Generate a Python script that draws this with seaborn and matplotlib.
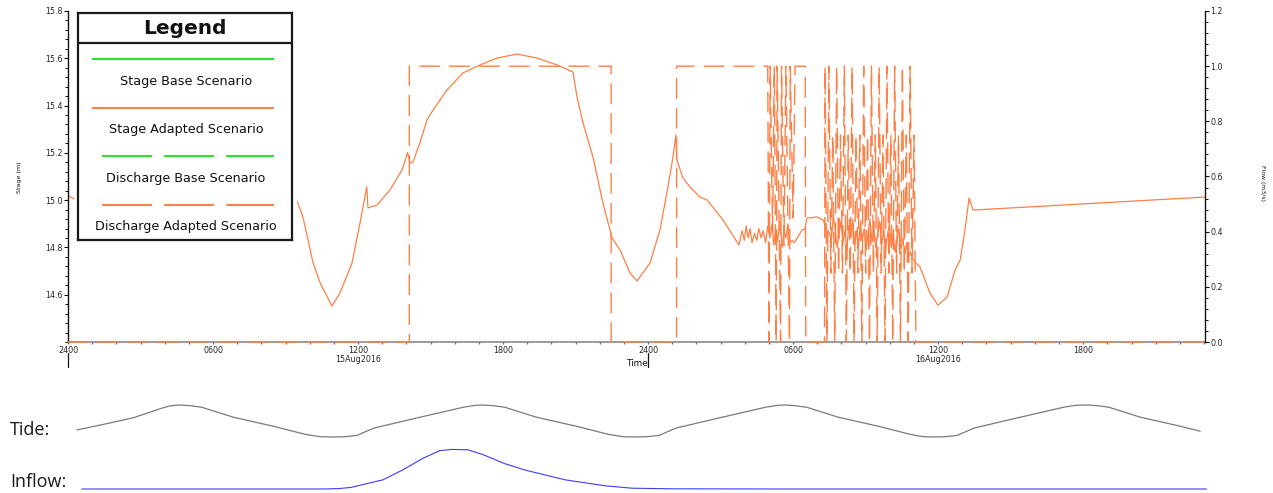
import numpy as np
import pandas as pd
import matplotlib
matplotlib.use("Agg")
import matplotlib.pyplot as plt
import matplotlib.transforms as mtransforms
from matplotlib.ticker import FixedLocator, MultipleLocator, FormatStrFormatter
import seaborn as sns

# ---------------- data (hours from 2400 14Aug2016) ----------------
stage_early_time = [0.0, 0.25]
stage_early = [15.02, 15.005]

stage_time = [
    9.49, 9.72, 10.14, 10.43, 10.92, 11.25, 11.75, 12.08, 12.36, 12.41, 12.78,
    13.32, 13.82, 14.05, 14.15, 14.27, 14.56, 14.85, 15.10, 15.68, 16.34, 17.05,
    17.75, 18.58, 19.40, 20.23, 20.89, 21.06, 21.31, 21.72, 22.13, 22.51, 22.84,
    23.25, 23.54, 24.08, 24.49, 24.82, 25.03, 25.15, 25.19, 25.44, 25.73, 26.15,
    26.44, 27.10, 27.76,
    27.89, 27.98, 28.06, 28.14, 28.22, 28.30, 28.40, 28.50, 28.58, 28.68, 28.76,
    28.86, 28.95, 29.04, 29.12, 29.20, 29.28, 29.36, 29.45, 29.54, 29.62, 29.70,
    29.78, 29.86, 29.95, 30.05, 30.37, 30.49, 30.57, 30.99, 31.24, 31.40,
    31.50, 31.58, 31.66, 31.74, 31.82, 31.90, 31.98, 32.06, 32.14, 32.22, 32.30,
    32.38, 32.46, 32.54, 32.62, 32.70, 32.78, 32.86, 32.94, 33.02, 33.10, 33.18,
    33.26, 33.34, 33.42, 33.50, 33.58, 33.66, 33.74, 33.82, 33.90, 33.98, 34.06,
    34.14, 34.22, 34.30, 34.38, 34.46, 34.54, 34.62, 34.70, 34.78, 34.86, 34.96,
    35.25, 35.66, 35.99, 36.37, 36.70, 36.91, 37.11, 37.28, 37.44, 47.04,
]
stage_adapted = [
    14.993, 14.929, 14.734, 14.650, 14.552, 14.607, 14.734, 14.903, 15.056, 14.967, 14.979,
    15.043, 15.128, 15.201, 15.157, 15.161, 15.242, 15.339, 15.381, 15.466, 15.538, 15.572,
    15.601, 15.618, 15.601, 15.572, 15.542, 15.436, 15.326, 15.182, 14.988, 14.840, 14.789,
    14.692, 14.658, 14.734, 14.874, 15.056, 15.182, 15.276, 15.170, 15.094, 15.056, 15.013,
    15.001, 14.916, 14.810,
    14.87, 14.83, 14.89, 14.84, 14.88, 14.82, 14.86, 14.83, 14.88, 14.84, 14.87,
    14.82, 14.89, 14.84, 14.90, 14.81, 14.88, 14.83, 14.91, 14.80, 14.87, 14.84,
    14.90, 14.82, 14.83, 14.82, 14.874, 14.878, 14.924, 14.929, 14.916, 14.874,
    14.86, 14.83, 14.93, 14.88, 14.80, 14.86, 14.91, 14.82, 14.87, 14.79, 14.89,
    14.84, 14.92, 14.81, 14.87, 14.80, 14.90, 14.83, 14.88, 14.79, 14.86, 14.92,
    14.82, 14.88, 14.80, 14.86, 14.91, 14.81, 14.87, 14.79, 14.85, 14.90, 14.80,
    14.86, 14.78, 14.84, 14.88, 14.79, 14.84, 14.77, 14.82, 14.76, 14.78, 14.747,
    14.717, 14.607, 14.556, 14.590, 14.704, 14.746, 14.874, 15.009, 14.958, 15.013,
]

flow_time = [
    0.0, 14.12, 14.12, 22.47, 22.47, 25.18, 25.18,
    28.95, 29.00, 29.05, 29.15, 29.22, 29.30, 29.34, 29.48, 29.52, 29.62, 29.70,
    29.85, 29.88, 30.00, 30.08, 30.50, 30.52, 31.30, 31.32,
    31.40, 31.48, 31.56, 31.64, 31.72, 31.80, 31.88, 31.96, 32.04, 32.12, 32.20,
    32.28, 32.36, 32.44, 32.52, 32.60, 32.68, 32.76, 32.84, 32.92, 33.00, 33.08,
    33.16, 33.24, 33.32, 33.40, 33.48, 33.56, 33.64, 33.72, 33.80, 33.88, 33.96,
    34.04, 34.12, 34.20, 34.28, 34.36, 34.44, 34.52, 34.60, 34.68, 34.76, 34.84,
    34.92, 35.00, 35.08, 47.04,
]
flow_adapted = [
    0.0, 0.0, 1.0, 1.0, 0.0, 0.0, 1.0,
    1.0, 0.0, 1.0, 0.40, 1.0, 0.0, 1.0, 0.0, 1.0, 0.35, 1.0,
    0.0, 1.0, 0.45, 1.0, 1.0, 0.0, 0.0, 1.0,
    0.0, 1.0, 0.25, 0.75, 0.0, 1.0, 0.25, 0.75, 0.25, 1.0, 0.0,
    0.75, 0.25, 1.0, 0.0, 0.75, 0.25, 0.75, 0.0, 1.0, 0.25, 0.75,
    0.0, 1.0, 0.25, 0.75, 0.0, 1.0, 0.25, 0.75, 0.0, 1.0, 0.25,
    0.75, 0.0, 1.0, 0.25, 0.75, 0.0, 1.0, 0.25, 0.75, 0.0, 1.0,
    0.25, 0.75, 0.0, 0.0,
]

tide_time = [
    0.37, 1.5, 2.7, 3.8, 4.2, 4.63,
    5.03, 5.53, 6.83, 8.53, 9.83, 10.43, 10.96,
    11.46, 11.96, 12.26, 12.66, 14.46, 16.36, 16.86, 17.17,
    17.57, 18.07, 19.37, 21.07, 22.37, 22.97, 23.46,
    23.96, 24.46, 24.76, 25.16, 26.96, 28.86, 29.36, 29.66,
    30.06, 30.56, 31.86, 33.56, 34.86, 35.36, 35.79,
    36.29, 36.79, 37.09, 37.49, 39.29, 41.19, 41.69, 42.16,
    42.56, 43.06, 44.36, 46.06, 46.84,
]
tide_level = [
    0.22, 0.40, 0.60, 0.88, 0.97, 1.00,
    0.98, 0.93, 0.62, 0.33, 0.08, 0.01, 0.00,
    0.01, 0.05, 0.15, 0.28, 0.60, 0.93, 0.99, 1.00,
    0.98, 0.93, 0.62, 0.33, 0.08, 0.01, 0.00,
    0.01, 0.05, 0.15, 0.28, 0.60, 0.93, 0.99, 1.00,
    0.98, 0.93, 0.62, 0.33, 0.08, 0.01, 0.00,
    0.01, 0.05, 0.15, 0.28, 0.60, 0.93, 0.99, 1.00,
    0.98, 0.93, 0.62, 0.33, 0.18,
]

inflow_time = [0.57, 6.0, 10.5, 11.2, 11.71, 13.03, 13.86, 14.69, 15.39, 15.89,
               16.55, 17.21, 18.04, 18.87, 20.56, 22.22, 23.33, 25.0, 30.0, 40.0, 47.1]
inflow_level = [0.0, 0.0, 0.0, 0.01, 0.04, 0.23, 0.48, 0.77, 0.96, 0.99,
                0.98, 0.85, 0.64, 0.48, 0.23, 0.08, 0.02, 0.005, 0.0, 0.0, 0.0]

xtick_hours = [0, 6, 12, 18, 24, 30, 36, 42]
xtick_labels = ["2400", "0600", "1200\n15Aug2016", "1800",
                "2400", "0600", "1200\n16Aug2016", "1800"]
day_starts = [0, 24]

legend_labels = ["Stage Base Scenario", "Stage Adapted Scenario",
                 "Discharge Base Scenario", "Discharge Adapted Scenario"]
legend_colors = ["#2ee02e", "#ff7f45", "#2ee02e", "#ff7f45"]
legend_dashed = [False, False, True, True]

# ---------------- styling ----------------
ORANGE = "#ff7f45"
sns.set_theme(style="white")
plt.rcParams["font.family"] = ["DejaVu Sans"]

W, H = 1273, 493
fig = plt.figure(figsize=(W / 100, H / 100), dpi=100)


def px_box(x0, y0, x1, y1):
    return [x0 / W, 1 - y1 / H, (x1 - x0) / W, (y1 - y0) / H]


ax = fig.add_axes(px_box(68, 11, 1205, 342))
ax2 = ax.twinx()
t_end = stage_time[-1]

# stage (solid) with a data gap between the two runs
stage_df = pd.DataFrame({
    "hours": stage_early_time + stage_time,
    "stage": stage_early + stage_adapted,
    "run": [0] * len(stage_early_time) + [1] * len(stage_time),
})
sns.lineplot(data=stage_df, x="hours", y="stage", units="run", estimator=None,
             sort=False, color=ORANGE, lw=0.9, ax=ax, legend=False)

# discharge (dashed) on the right-hand axis
flow_df = pd.DataFrame({"hours": flow_time, "flow": flow_adapted})
sns.lineplot(data=flow_df, x="hours", y="flow", estimator=None, sort=False,
             color=ORANGE, lw=1.0, linestyle=(0, (15, 6.5)), ax=ax2, legend=False)
for ln in ax2.get_lines():
    ln.set_clip_on(False)

ax.set_xlim(0, t_end)
ax.set_ylim(14.4, 15.8)
ax2.set_ylim(0, 1.2)

# spines
for a in (ax, ax2):
    a.spines["top"].set_visible(False)
ax.spines["right"].set_visible(False)
ax2.spines["left"].set_visible(False)
ax2.spines["bottom"].set_visible(False)
ax.spines["left"].set_color("#111111")
ax.spines["left"].set_linewidth(1.0)
ax2.spines["right"].set_color("#111111")
ax2.spines["right"].set_linewidth(1.0)
ax.spines["bottom"].set_color("#808080")
ax.spines["bottom"].set_linewidth(1.1)

# y ticks
ax.yaxis.set_major_locator(FixedLocator([14.6, 14.8, 15.0, 15.2, 15.4, 15.6, 15.8]))
ax.yaxis.set_minor_locator(MultipleLocator(0.04))
ax.yaxis.set_major_formatter(FormatStrFormatter("%.1f"))
ax2.yaxis.set_major_locator(MultipleLocator(0.2))
ax2.yaxis.set_minor_locator(MultipleLocator(0.04))
ax2.yaxis.set_major_formatter(FormatStrFormatter("%.1f"))
ax.tick_params(axis="y", which="major", direction="out", length=3, width=0.8,
               color="#111111", labelsize=5.7, pad=1, left=True)
ax.tick_params(axis="y", which="minor", direction="out", length=2, width=0.7,
               color="#111111", left=True)
ax2.tick_params(axis="y", which="major", direction="out", length=3, width=0.8,
                color="#111111", labelsize=5.7, pad=1, right=True)
ax2.tick_params(axis="y", which="minor", direction="out", length=2, width=0.7,
                color="#111111", right=True)

# x ticks
ax.set_xticks(xtick_hours)
ax.set_xticklabels(xtick_labels)
ax.xaxis.set_minor_locator(MultipleLocator(1))
ax.tick_params(axis="x", which="both", direction="out", length=1.5, width=1.0,
               color="#666666", labelsize=5.8, pad=1.5, bottom=True)
for lbl in ax.get_xticklabels():
    lbl.set_linespacing(1.0)
ax.set_xlabel("")
ax.set_ylabel("")
ax2.set_ylabel("")

# longer day-boundary ticks below the axis
trans = mtransforms.blended_transform_factory(ax.transData, ax.transAxes)
for d in day_starts:
    ax.plot([d, d], [-0.033, -0.075], transform=trans, clip_on=False,
            color="#111111", lw=0.9)
ax.text(0.5, -0.064, "Time", transform=ax.transAxes, ha="center", va="center",
        fontsize=6.4, color="#111111")

fig.text(20 / W, 1 - 177 / H, "Stage (m)", rotation=90, ha="center", va="center",
         fontsize=4.6, color="#111111")
fig.text(1262 / W, 1 - 183 / H, "Flow (m3/s)", rotation=270, ha="center", va="center",
         fontsize=4.4, color="#111111")

# ---------------- legend box ----------------
lg = fig.add_axes(px_box(78, 13, 292, 240))
lg.set_xlim(0, 214)
lg.set_ylim(227, 0)
lg.set_xticks([])
lg.set_yticks([])
lg.patch.set_facecolor("white")
for s in lg.spines.values():
    s.set_visible(True)
    s.set_color("#1a1a1a")
    s.set_linewidth(1.6)
lg.axhline(30, color="#1a1a1a", lw=1.6)
lg.text(107, 15, "Legend", ha="center", va="center", fontsize=14.5,
        fontweight="bold", color="#111111")
for i, (lab, col, dashed) in enumerate(zip(legend_labels, legend_colors, legend_dashed)):
    y_line = 46 + 48.6 * i
    ls = (0, (24, 5.8)) if dashed else "-"
    x0, x1 = (14, 196) if not dashed else (24, 196)
    lg.plot([x0, x1], [y_line, y_line], color=col, lw=1.5, linestyle=ls,
            solid_capstyle="butt", dash_capstyle="butt")
    lg.text(108, y_line + 22, lab, ha="center", va="center", fontsize=9.2,
            color="#111111")

# ---------------- tide and inflow strips ----------------
tax = fig.add_axes(px_box(68, 400, 1205, 442))
sns.lineplot(x=tide_time, y=tide_level, estimator=None, sort=False,
             color="#7a7a7a", lw=0.9, ax=tax, legend=False)
tax.set_xlim(0, t_end)
tax.set_ylim(-0.156, 1.156)
tax.axis("off")

iax = fig.add_axes(px_box(68, 444, 1205, 492))
sns.lineplot(x=inflow_time, y=inflow_level, estimator=None, sort=False,
             color="#3c3cff", lw=0.8, ax=iax, legend=False)
for ln in iax.get_lines():
    ln.set_clip_on(False)
iax.set_xlim(0, t_end)
iax.set_ylim(-0.075, 1.125)
iax.axis("off")

fig.text(10 / W, 1 - 430 / H, "Tide:", ha="left", va="center", fontsize=13,
         family=["Open Sans", "DejaVu Sans"], color="#1a1a1a")
fig.text(10 / W, 1 - 482 / H, "Inflow:", ha="left", va="center", fontsize=13,
         family=["Open Sans", "DejaVu Sans"], color="#1a1a1a")

fig.savefig("out.png", dpi=100, facecolor="white")
